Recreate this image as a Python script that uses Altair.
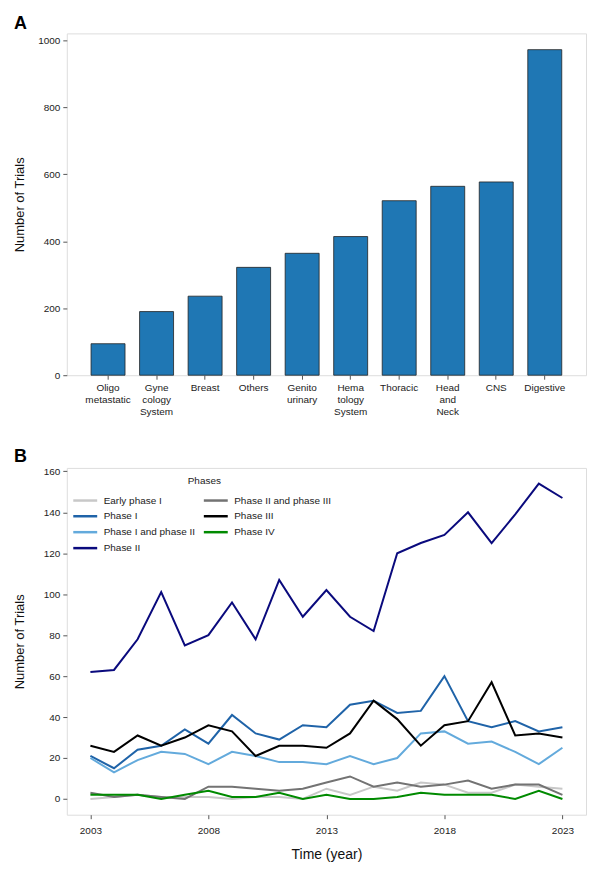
import altair as alt
import pandas as pd

FONT = "Liberation Sans, Arial, Helvetica, sans-serif"

# ---- Panel A data ----
categories = ["Oligo metastatic", "Gyne cology System", "Breast", "Others", "Genito urinary",
              "Hema tology System", "Thoracic", "Head and Neck", "CNS", "Digestive"]
trials = [94, 190, 236, 322, 364, 414, 521, 564, 577, 972]

# ---- Panel B data ----
years = list(range(2003, 2024))
early_phase_1 = [0, 1, 2, 1, 1, 1, 0, 1, 1, 0, 5, 2, 6, 4, 8, 7, 3, 3, 7, 6, 5]
phase_1 = [21, 15, 24, 26, 34, 27, 41, 32, 29, 36, 35, 46, 48, 42, 43, 60, 38, 35, 38, 33, 35]
phase_1_2 = [20, 13, 19, 23, 22, 17, 23, 21, 18, 18, 17, 21, 17, 20, 32, 33, 27, 28, 23, 17, 25]
phase_2 = [62, 63, 78, 101, 75, 80, 96, 78, 107, 89, 102, 89, 82, 120, 125, 129, 140, 125, 139, 154, 147]
phase_2_3 = [3, 1, 2, 1, 0, 6, 6, 5, 4, 5, 8, 11, 6, 8, 6, 7, 9, 5, 7, 7, 2]
phase_3 = [26, 23, 31, 26, 30, 36, 33, 21, 26, 26, 25, 32, 48, 39, 26, 36, 38, 57, 31, 32, 30]
phase_4 = [2, 2, 2, 0, 2, 4, 1, 1, 3, 0, 2, 0, 0, 1, 3, 2, 2, 2, 0, 4, 0]

phase_names = ["Early phase I", "Phase I", "Phase I and phase II", "Phase II",
               "Phase II and phase III", "Phase III", "Phase IV"]
phase_values = [early_phase_1, phase_1, phase_1_2, phase_2, phase_2_3, phase_3, phase_4]
phase_colors = ["#c8c8c8", "#1f63a8", "#63aadc", "#0a0a7d", "#737373", "#000000", "#008a00"]

bar_df = pd.DataFrame({"category": categories, "trials": trials})

rows = []
for name, vals in zip(phase_names, phase_values):
    for yr, v in zip(years, vals):
        rows.append({"phase": name, "year": yr, "count": v})
line_df = pd.DataFrame(rows)

axis_common = dict(domain=False, tickColor="#555555", tickSize=4, tickWidth=1,
                   labelFont=FONT, labelFontSize=10, labelColor="#222222",
                   titleFont=FONT, titleFontWeight="normal", titleColor="#111111",
                   grid=False)

title_style = dict(anchor="start", fontSize=18, fontWeight="bold", font=FONT, offset=0, color="#000000")

chart_a = alt.Chart(bar_df, title=alt.Title("A", **title_style)).mark_bar(
    color="#1f77b4", stroke="#222222", strokeWidth=0.8
).encode(
    x=alt.X("category:N", sort=categories, title=None,
            scale=alt.Scale(paddingInner=0.3, paddingOuter=0.5),
            axis=alt.Axis(labelAngle=0, labelExpr="split(datum.label, ' ')", labelLineHeight=12,
                          labelPadding=3, labelBaseline="top", **axis_common)),
    y=alt.Y("trials:Q", scale=alt.Scale(domain=[0, 1020.6], nice=False),
            axis=alt.Axis(values=[0, 200, 400, 600, 800, 1000], format="d", title="Number of Trials",
                          titleFontSize=13, minExtent=30, maxExtent=30, titlePadding=10,
                          labelPadding=3, **axis_common)),
).properties(width=521, height=343)

chart_b = alt.Chart(line_df, title=alt.Title("B", **title_style)).mark_line(strokeWidth=2).encode(
    x=alt.X("year:Q", scale=alt.Scale(domain=[2002, 2024], nice=False, zero=False),
            axis=alt.Axis(values=[2003, 2008, 2013, 2018, 2023], format="d", title="Time (year)",
                          titleFontSize=14, labelPadding=7, titlePadding=12, **axis_common)),
    y=alt.Y("count:Q", scale=alt.Scale(domain=[-7.7, 161.7], nice=False),
            axis=alt.Axis(values=list(range(0, 161, 20)), title="Number of Trials",
                          titleFontSize=13, minExtent=30, maxExtent=30, titlePadding=10,
                          labelPadding=3, **axis_common)),
    color=alt.Color("phase:N", scale=alt.Scale(domain=phase_names, range=phase_colors),
                    legend=alt.Legend(orient="none", legendX=11, legendY=8, columns=2, title="Phases",
                                      titleAnchor="middle", titleFont=FONT, titleFontSize=10,
                                      titleFontWeight="normal", titleColor="#222222", titlePadding=7,
                                      labelFont=FONT, labelFontSize=10, labelColor="#222222",
                                      labelOffset=11, symbolType="M-2,0L2,0", symbolSize=144,
                                      symbolStrokeWidth=2.5, columnPadding=3, rowPadding=3)),
    detail="phase:N",
).properties(width=521, height=348)

chart = alt.vconcat(chart_a, chart_b, spacing=30).resolve_legend(
    color="independent"
).configure_view(
    stroke="#555555", strokeWidth=1
).configure(background="white")

chart.save("out.html", embed_options={"renderer": "svg", "actions": False})
